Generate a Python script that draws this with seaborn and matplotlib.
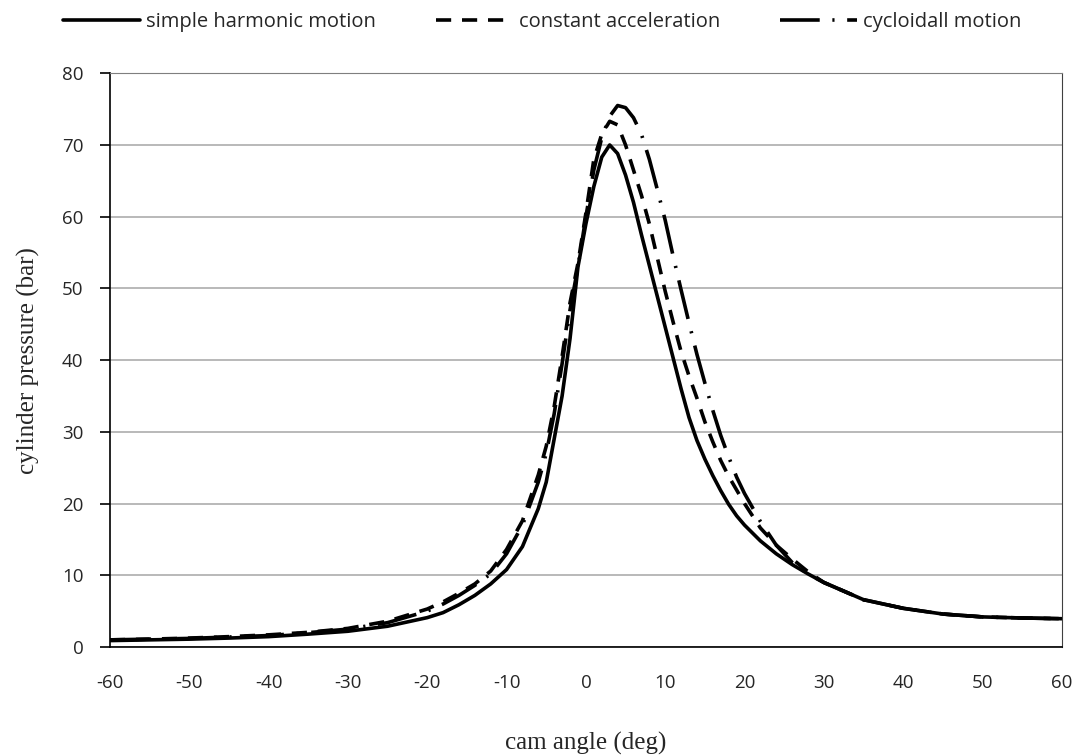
import numpy as np
import pandas as pd
import seaborn as sns
import matplotlib.pyplot as plt

# cam angle grid (deg)
cam_angle = [-60, -55, -50, -45, -40, -35, -30, -25, -20, -18, -16, -14, -12, -10,
             -8, -6, -5, -4, -3, -2, -1, 0, 1, 2, 3, 4, 5, 6, 7, 8, 9, 10, 11, 12,
             13, 14, 15, 16, 17, 18, 19, 20, 22, 24, 26, 28, 30, 35, 40, 45, 50, 55, 60]

# cylinder pressure (bar)
simple_harmonic = [0.9, 1.0, 1.1, 1.25, 1.45, 1.8, 2.2, 2.9, 4.1, 4.8, 5.9, 7.2, 8.8, 10.8,
                   14.0, 19.3, 23.0, 29.0, 35.0, 43.0, 53.0, 59.0, 64.2, 68.3, 70.0, 68.8,
                   65.8, 62.0, 57.5, 53.2, 48.9, 44.6, 40.3, 36.0, 32.0, 28.8, 26.2, 23.9,
                   21.8, 19.9, 18.3, 17.0, 14.8, 13.0, 11.5, 10.2, 9.0, 6.6, 5.4, 4.6, 4.2,
                   4.05, 3.95]

constant_accel = [1.0, 1.1, 1.25, 1.45, 1.7, 2.05, 2.6, 3.6, 5.3, 6.3, 7.5, 8.8, 10.6, 13.6,
                  17.6, 24.0, 28.0, 33.5, 40.5, 48.0, 53.5, 60.5, 68.0, 71.5, 73.3, 72.8,
                  70.0, 66.5, 63.0, 59.0, 54.3, 49.6, 45.3, 41.2, 37.8, 34.7, 31.4, 28.6,
                  26.0, 23.8, 21.9, 20.0, 16.6, 14.2, 12.3, 10.5, 9.0, 6.6, 5.4, 4.6, 4.2,
                  4.05, 3.95]

cycloidal = [1.0, 1.1, 1.2, 1.4, 1.6, 2.0, 2.5, 3.4, 5.0, 6.0, 7.2, 8.6, 10.2, 13.0,
             17.0, 23.0, 27.0, 32.5, 39.5, 47.0, 53.0, 60.0, 66.5, 71.0, 74.0, 75.5,
             75.2, 73.8, 71.5, 68.0, 63.8, 59.5, 54.5, 49.8, 45.2, 40.8, 36.8, 33.0,
             29.5, 26.5, 23.7, 21.4, 17.5, 14.2, 11.8, 10.2, 9.0, 6.6, 5.4, 4.6, 4.2,
             4.05, 3.95]

names = ["simple harmonic motion", "constant acceleration", "cycloidall motion"]

df = pd.DataFrame({
    "angle": cam_angle * 3,
    "pressure": simple_harmonic + constant_accel + cycloidal,
    "motion": [names[0]] * len(cam_angle) + [names[1]] * len(cam_angle) + [names[2]] * len(cam_angle),
})

sns.set_style("white")
plt.rcParams["font.family"] = ["Open Sans", "DejaVu Sans"]
plt.rcParams["axes.unicode_minus"] = False

fig = plt.figure(figsize=(10.78, 7.55), dpi=100)
ax = fig.add_axes([0.102, 0.143, 0.883, 0.760])

sns.lineplot(data=df, x="angle", y="pressure", style="motion", style_order=names,
             dashes={names[0]: "", names[1]: (4.2, 3.0), names[2]: (11.0, 3.5, 0.6, 3.5)},
             color="black", linewidth=2.6, ax=ax, legend=True, sort=False)

ax.set_xlim(-60, 60)
ax.set_ylim(0, 80)
ax.set_xticks(range(-60, 61, 10))
ax.set_yticks(range(0, 81, 10))
ax.yaxis.grid(True, color="#a6a6a6", linewidth=1.1)
ax.xaxis.grid(False)
ax.set_axisbelow(True)

for side in ["left", "bottom"]:
    ax.spines[side].set_color("black")
    ax.spines[side].set_linewidth(1.2)
ax.spines["top"].set_color("#7f7f7f")
ax.spines["right"].set_color("#404040")

ax.tick_params(axis="y", which="major", left=True, length=7, width=1.2, color="black",
               labelsize=13.5, pad=12)
ax.tick_params(axis="x", which="major", bottom=False, labelsize=13.5, pad=16)

ax.set_xlabel("cam angle (deg)", family="Liberation Serif", fontsize=18, labelpad=29)
ax.set_ylabel("cylinder pressure (bar)", family="Liberation Serif", fontsize=18, labelpad=16)

handles, labels = ax.get_legend_handles_labels()
ax.legend_.remove()
fig.legend(handles, labels, loc="upper center", bbox_to_anchor=(0.503, 1.008), ncol=3,
           frameon=False, fontsize=14.5, handlelength=3.8, columnspacing=3.0, handletextpad=0.3)

fig.savefig("out.png", dpi=100)
